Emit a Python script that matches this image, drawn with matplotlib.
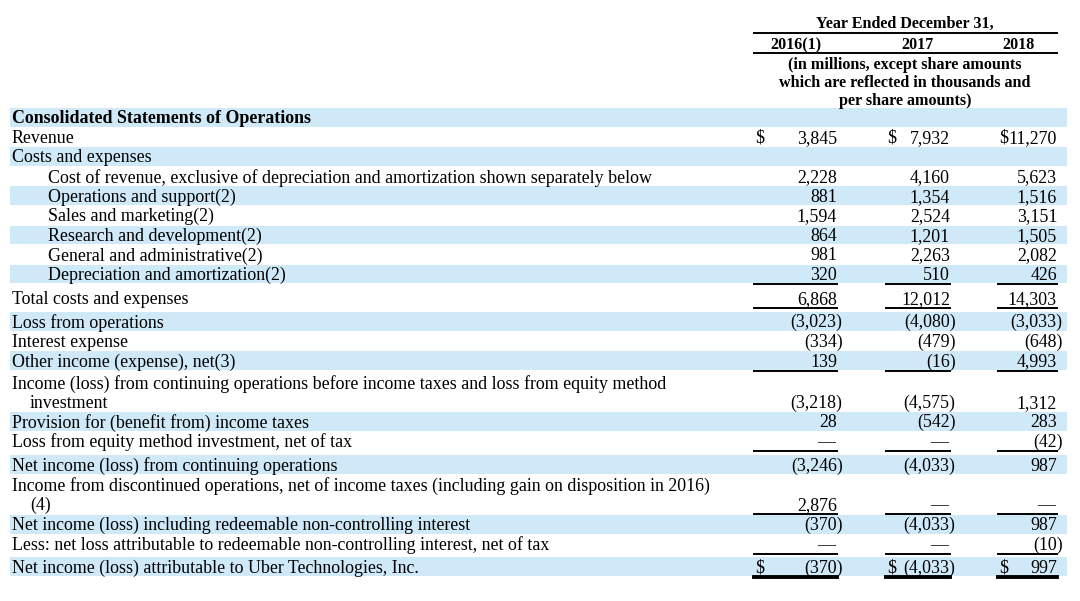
import matplotlib
matplotlib.use("Agg")
from matplotlib import pyplot as plt

# --- data ---
years = ["2016(1)", "2017", "2018"]
labels = [
    "Consolidated Statements of Operations",
    "Revenue",
    "Costs and expenses",
    "Cost of revenue, exclusive of depreciation and amortization shown separately below",
    "Operations and support(2)",
    "Sales and marketing(2)",
    "Research and development(2)",
    "General and administrative(2)",
    "Depreciation and amortization(2)",
    "Total costs and expenses",
    "Loss from operations",
    "Interest expense",
    "Other income (expense), net(3)",
    "Income (loss) from continuing operations before income taxes and loss from equity method\ninvestment",
    "Provision for (benefit from) income taxes",
    "Loss from equity method investment, net of tax",
    "Net income (loss) from continuing operations",
    "Income from discontinued operations, net of income taxes (including gain on disposition in 2016)\n(4)",
    "Net income (loss) including redeemable non-controlling interest",
    "Less: net loss attributable to redeemable non-controlling interest, net of tax",
    "Net income (loss) attributable to Uber Technologies, Inc.",
]
indented = [3, 4, 5, 6, 7, 8]
v2016 = [None, 3845, None, 2228, 881, 1594, 864, 981, 320, 6868, -3023, -334, 139,
         -3218, 28, 0, -3246, 2876, -370, 0, -370]
v2017 = [None, 7932, None, 4160, 1354, 2524, 1201, 2263, 510, 12012, -4080, -479, -16,
         -4575, -542, 0, -4033, 0, -4033, 0, -4033]
v2018 = [None, 11270, None, 5623, 1516, 3151, 1505, 2082, 426, 14303, -3033, -648, 4993,
         1312, 283, -42, 987, 0, 987, -10, 997]
dollar_rows = [1, 20]
rule_rows = [8, 9, 12, 15, 17, 19]
final_row = 20

# --- layout (pixels) ---
W, H = 1080, 601
band = "#cfe9f9"
col_left = [754, 886, 998]
col_right = [837, 950, 1057]
font = "Liberation Serif"
fs = 12.85
fs_head = 11.6
row_h = 19.6
gap_before = {9: 4, 10: 4, 13: 2, 16: 4, 18: 1, 20: 3}

fig = plt.figure(figsize=(W / 100, H / 100), dpi=100)
ax = fig.add_axes([0, 0, 1, 1])
ax.set_xlim(0, W)
ax.set_ylim(H, 0)
ax.axis("off")

def txt(x, y, s, ha="left", bold=False, size=fs):
    ax.text(x, y + 1, s, ha=ha, va="center", fontsize=size, family=font,
            fontweight="bold" if bold else "normal", color="black")

# header
txt(905, 23, "Year Ended December 31,", ha="center", bold=True, size=fs_head)
ax.plot([col_left[0], col_right[2]], [33, 33], color="black", lw=1.4)
txt(770, 44, years[0], bold=True, size=fs_head)
txt(917, 44, years[1], ha="center", bold=True, size=fs_head)
txt(1035, 44, years[2], ha="right", bold=True, size=fs_head)
ax.plot([col_left[0], col_right[2]], [53, 53], color="black", lw=1.4)
txt(905, 64, "(in millions, except share amounts", ha="center", bold=True, size=fs_head)
txt(905, 82, "which are reflected in thousands and", ha="center", bold=True, size=fs_head)
txt(905, 100, "per share amounts)", ha="center", bold=True, size=fs_head)

def fmt(v):
    if v == 0:
        return "—"
    if v < 0:
        return "({:,})".format(-v)
    return "{:,}".format(v)

y = 108.0
cols = [v2016, v2017, v2018]
for i, lab in enumerate(labels):
    y += gap_before.get(i, 0)
    nlines = lab.count("\n") + 1
    h = row_h * nlines
    if i % 2 == 0:
        ax.add_patch(plt.Rectangle((10, y), 1057, h - 1, color=band, lw=0, zorder=0))
    lines = lab.split("\n")
    x0 = 48 if i in indented else 12
    for k, line in enumerate(lines):
        xx = x0 if k == 0 else 30
        txt(xx, y + row_h * (k + 0.5), line, bold=(i == 0))
    yv = y + row_h * (nlines - 0.5)
    for c in range(3):
        v = cols[c][i]
        if v is None:
            continue
        s = fmt(v)
        if v < 0:
            txt(col_right[c] + 5.5, yv, s, ha="right")
        elif v == 0:
            txt(col_right[c] - 2, yv, s, ha="right")
        else:
            txt(col_right[c], yv, s, ha="right")
        if i in dollar_rows:
            txt(col_left[c] + 1, yv, "$")
    yb = y + h
    if i in rule_rows:
        for c in range(3):
            ax.plot([col_left[c], col_right[c]], [yb, yb], color="black", lw=1.4)
    if i == final_row:
        for c in range(3):
            ax.plot([col_left[c], col_right[c]], [yb, yb], color="black", lw=2.8)
    y += h

fig.savefig("out.png", dpi=100, facecolor="white")
